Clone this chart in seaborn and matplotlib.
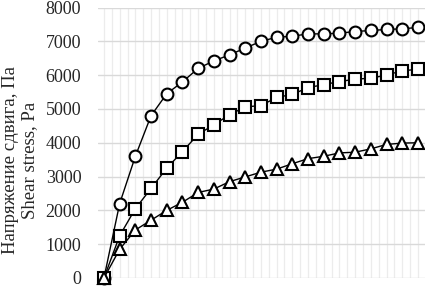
import numpy as np
import matplotlib
matplotlib.use("Agg")
import matplotlib.pyplot as plt
import seaborn as sns

# shear stress readings, 21 points per curve
x_points = list(range(21))
stress_circle = [0, 2200, 3600, 4800, 5450, 5800, 6200, 6420, 6600, 6800, 7000,
                 7120, 7150, 7220, 7220, 7240, 7290, 7320, 7350, 7370, 7410]
stress_square = [0, 1250, 2050, 2650, 3250, 3740, 4250, 4530, 4830, 5060, 5100,
                 5340, 5430, 5630, 5720, 5810, 5880, 5910, 6000, 6130, 6170]
stress_triangle = [0, 850, 1420, 1710, 2000, 2240, 2530, 2630, 2850, 2990, 3130,
                   3220, 3380, 3530, 3600, 3700, 3720, 3820, 3950, 3990, 4000]
y_ticks = [0, 1000, 2000, 3000, 4000, 5000, 6000, 7000, 8000]
y_label = "Напряжение сдвига, Па\nShear stress, Pa"

sns.set_style("white")
plt.rcParams["font.family"] = ["Liberation Serif", "DejaVu Serif"]

fig = plt.figure(figsize=(4.25, 2.87), dpi=100)
ax = fig.add_axes([98 / 425, 1 - 278 / 287, 1 - 98 / 425, (278 - 7.5) / 287])

# faint vertical grid every half step, grey horizontal grid
for gx in np.arange(-0.5, 21, 0.5):
    ax.axvline(gx, color="#ececec", lw=0.9, zorder=0)
ax.set_yticks(y_ticks)
ax.yaxis.grid(True, color="#d9d9d9", lw=1.0, zorder=1)
ax.set_axisbelow(True)

series = [
    (stress_circle, "o", 8.5),
    (stress_square, "s", 8.5),
    (stress_triangle, "^", 9),
]
for vals, mk, ms in series:
    sns.lineplot(x=x_points, y=vals, ax=ax, color="black", lw=1.0,
                 marker=mk, markersize=ms, markerfacecolor="white",
                 markeredgecolor="black", markeredgewidth=1.5,
                 clip_on=False, zorder=3)

ax.set_xlim(-0.38, 20.45)
ax.set_ylim(0, 8000)
ax.set_xticks([])
ax.set_xlabel("")
ax.set_ylabel("")
ax.tick_params(axis="y", length=0, pad=12, labelsize=13)
for s in ax.spines.values():
    s.set_visible(False)

fig.text(20 / 425, 1 - 160 / 287, y_label, rotation=90, ha="center",
         va="center", multialignment="center", fontsize=13.5)

fig.savefig("out.png", dpi=100)
